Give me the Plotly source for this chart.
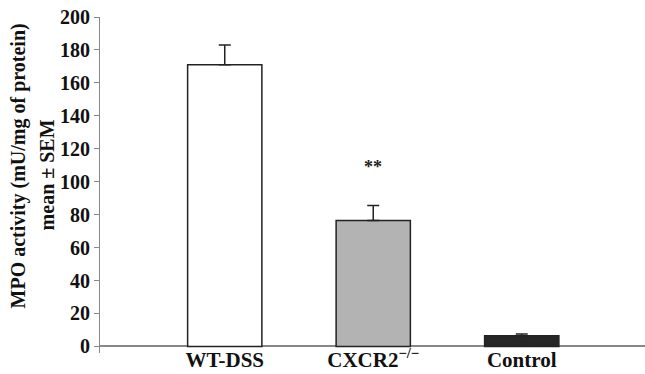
import plotly.graph_objects as go

categories = ["WT-DSS", "CXCR2<sup>−/−</sup>", "Control"]
means = [171, 76.5, 6.5]
sem = [12, 9, 1]
colors = ["#ffffff", "#b3b3b3", "#262626"]
yticks = [0, 20, 40, 60, 80, 100, 120, 140, 160, 180, 200]

FONT = "Liberation Serif"

fig = go.Figure()
fig.add_trace(go.Bar(
    x=[0, 1, 2], y=means, width=0.5,
    marker=dict(color=colors, line=dict(color="#222222", width=1.5)),
    error_y=dict(type="data", array=sem, arrayminus=[0, 0, 0], symmetric=False,
                 color="#222222", thickness=1.5, width=6),
))

fig.add_annotation(x=1, y=109, text="<b>**</b>", showarrow=False,
                   font=dict(family=FONT, size=18, color="#222222"))
fig.add_annotation(xref="paper", yref="paper", x=-0.150, y=0.556,
                   text="<b>MPO activity (mU/mg of protein)</b>", textangle=-90,
                   showarrow=False, xanchor="center", yanchor="middle",
                   font=dict(family=FONT, size=20, color="#111111"))
fig.add_annotation(xref="paper", yref="paper", x=-0.097, y=0.529,
                   text="<b>mean ± SEM</b>", textangle=-90,
                   showarrow=False, xanchor="center", yanchor="middle",
                   font=dict(family=FONT, size=20, color="#111111"))

fig.update_layout(
    width=645, height=374,
    margin=dict(l=100, r=0, t=17, b=21),
    plot_bgcolor="white", paper_bgcolor="white",
    showlegend=False,
    font=dict(family=FONT, color="#111111"),
    xaxis=dict(range=[-0.84, 2.83], tickvals=[0, 1, 2],
               ticktext=["<b>" + c + "</b>" for c in categories],
               showline=False,
               ticks="", showgrid=False, zeroline=False, automargin=False,
               ticklabelstandoff=-8,
               tickfont=dict(family=FONT, size=21, color="#111111")),
    yaxis=dict(range=[-4, 200], tickvals=yticks,
               ticktext=["<b>%d</b>" % v for v in yticks],
               showline=True, linecolor="#888888", linewidth=1,
               ticks="outside", ticklen=5, tickcolor="#888888",
               showgrid=False, zeroline=True, zerolinecolor="#888888",
               zerolinewidth=1.5, automargin=False,
               tickfont=dict(family=FONT, size=20, color="#111111")),
)

fig.write_html("out.html", config={"displayModeBar": False},
               post_script="document.body.style.margin='0';document.body.style.overflow='hidden';")
